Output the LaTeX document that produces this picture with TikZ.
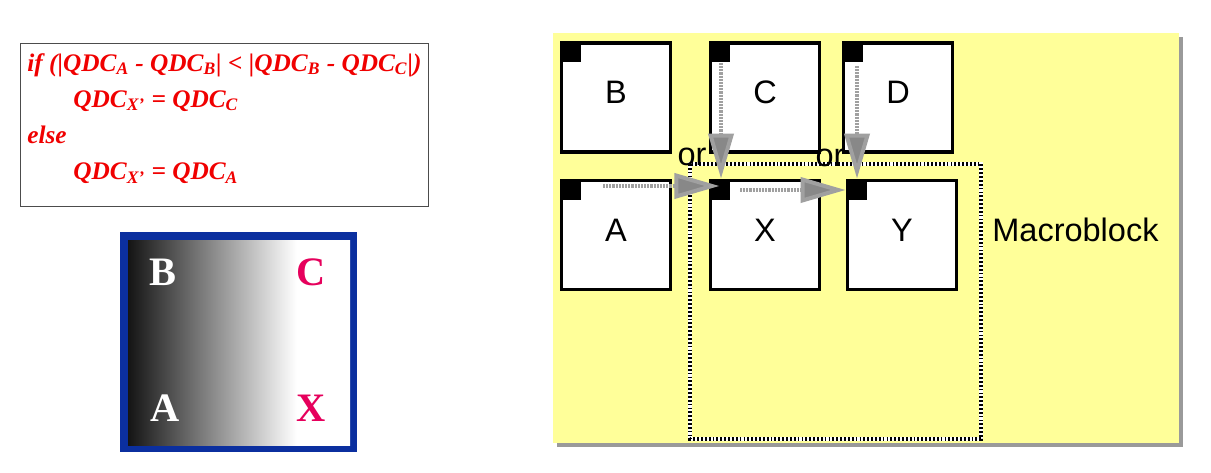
\documentclass[tikz,border=0pt]{standalone}
\usepackage{fontspec}
\setmainfont{Liberation Sans}
\newfontfamily\serifbold{Liberation Serif}
\usetikzlibrary{arrows.meta,positioning,calc}
\definecolor{mbyellow}{HTML}{FFFF99}
\definecolor{mbshadow}{HTML}{9A9A9A}
\definecolor{mbblue}{HTML}{0B2F9F}
\definecolor{mbpink}{HTML}{E6005C}
\definecolor{mbred}{HTML}{F00000}
\definecolor{mbarrow}{HTML}{A0A0A0}
\pgfdeclarehorizontalshading{mbfade}{100bp}{color(0bp)=(black!92); color(25bp)=(black!92); color(63bp)=(white); color(100bp)=(white)}

\tikzset{
  cell/.style={draw=black,fill=white,line width=2.2pt,minimum size=2.18cm,inner sep=0pt,text depth=0.2cm,font=\fontsize{18.5}{22}\selectfont},
  corner/.style={fill=black,minimum size=0.42cm,inner sep=0pt,anchor=north west},
  lbl/.style={inner sep=0pt,font=\fontsize{18.5}{22}\selectfont},
  gradlbl/.style={inner sep=0pt,font=\fontsize{23}{26}\selectfont\serifbold\bfseries},
  mvarrow/.style={draw=mbarrow,line width=0.08cm,dash pattern=on 1.2pt off 0.6pt,-{Triangle[length=0.9cm,width=0.5cm,fill=mbarrow!85!black]}},
}

\begin{document}
\begin{tikzpicture}[x=0.02cm,y=-0.02cm]
  \useasboundingbox (0,0) rectangle (1211,473);
  % condition
  \node[draw=black!70,line width=0.8pt,minimum width=8.16cm,minimum height=3.26cm,anchor=north west] (cond) at (20,43) {};
  \node[anchor=north west,inner sep=0pt,align=left,text=mbred,font=\fontsize{14.4}{20.5}\selectfont\serifbold\bfseries\itshape] (condtext) at (27,53)
    {if (|QDC\textsubscript{A} - QDC\textsubscript{B}| < |QDC\textsubscript{B} - QDC\textsubscript{C}|)\\
     \hspace*{0.92cm}QDC\textsubscript{X’} = QDC\textsubscript{C}\\
     else\\
     \hspace*{0.92cm}QDC\textsubscript{X’} = QDC\textsubscript{A}};

  % gradient square
  \fill[mbblue] (120,232) rectangle (357,452);
  \shade[shading=mbfade] (128,240) rectangle (350,445);
  \node[gradlbl,text=white] (gB) at (163,272) {B};
  \node[gradlbl,text=mbpink] (gC) at (311,272) {C};
  \node[gradlbl,text=white] (gA) at (165,408) {A};
  \node[gradlbl,text=mbpink] (gX) at (311,408) {X};

  % macroblock area
  \fill[mbshadow] (557,37) rectangle (1183,447);
  \fill[mbyellow] (553,33) rectangle (1179,443);
  \draw[white,line width=1.8pt] (690,164) rectangle (981,439);
  \draw[black,line width=1.8pt,dash pattern=on 1pt off 1.2pt] (690,164) rectangle (981,439);

  \node[cell] (B) at (616,97.5) {B};
  \node[cell] (C) at (765,97.5) {C};
  \node[cell] (D) at (898,97.5) {D};
  \node[cell] (A) at (616,235) {A};
  \node[cell] (X) at (765,235) {X};
  \node[cell] (Y) at (902,235) {Y};
  \foreach \c in {B,C,D,A,X,Y}
    \node[corner] (q\c) at (\c.north west) {};

  \node[lbl] (or1) at (692,157) {or};
  \node[lbl] (or2) at (830,158) {or};
  \node[lbl,anchor=west] (mbtext) at (992,230) {Macroblock};

  % predictions
  \coordinate (fromA) at (603,186);
  \coordinate (fromC) at (721,63);
  \coordinate (fromD) at (857,66);
  \coordinate (fromX) at (740,190);
  \draw[mvarrow] (fromA) -- (fromA -| qX.center);
  \draw[mvarrow] (fromX) -- (fromX -| qY.west);
  \draw[mvarrow] (fromC) -- (fromC |- qX.north);
  \draw[mvarrow] (fromD) -- (fromD |- qY.north);
\end{tikzpicture}
\end{document}
